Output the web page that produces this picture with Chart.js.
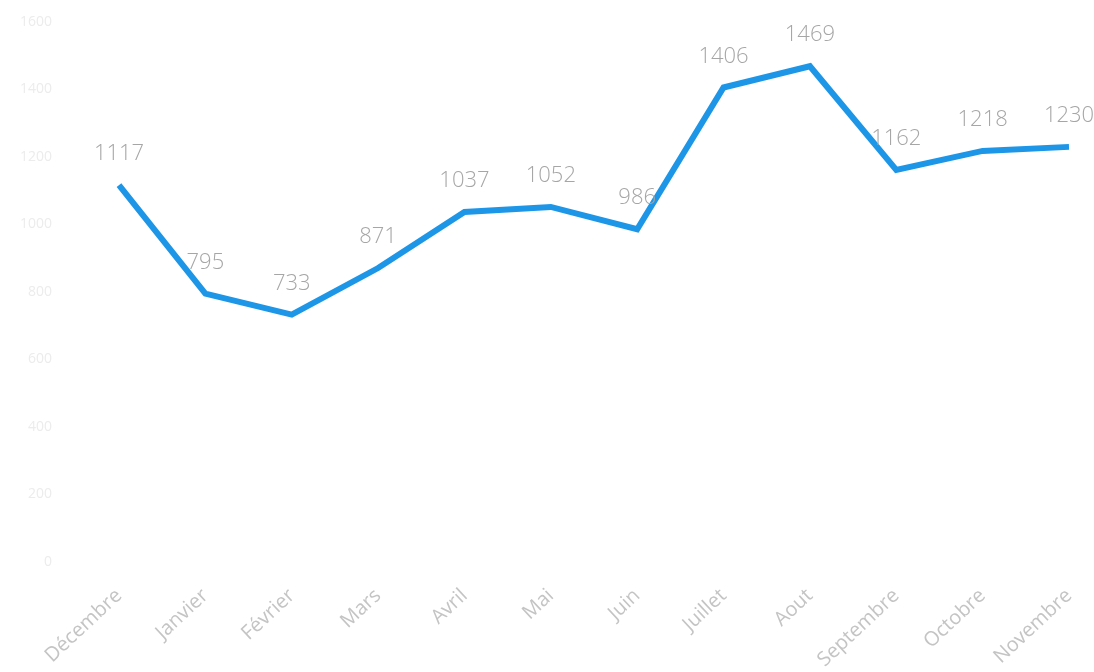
<!DOCTYPE html>
<html>
<head>
<meta charset="utf-8">
<script src="https://cdn.jsdelivr.net/npm/chart.js@4"></script>
<style>
  html, body { margin: 0; padding: 0; background: #fff; }
  #wrap { width: 1094px; height: 672px; }
</style>
</head>
<body>
<div id="wrap"><canvas id="chart"></canvas></div>
<script>
const mois = ["Décembre", "Janvier", "Février", "Mars", "Avril", "Mai", "Juin", "Juillet", "Aout", "Septembre", "Octobre", "Novembre"];
const valeurs = [1117, 795, 733, 871, 1037, 1052, 986, 1406, 1469, 1162, 1218, 1230];
const yMax = 1600;
const yStep = 200;

// petites étiquettes au-dessus de chaque point
const etiquettes = {
  id: "etiquettes",
  afterDatasetsDraw(chart) {
    const ctx = chart.ctx;
    const meta = chart.getDatasetMeta(0);
    ctx.save();
    ctx.font = "300 22px 'Open Sans'";
    ctx.fillStyle = "#a6a6a6";
    ctx.textAlign = "center";
    ctx.textBaseline = "middle";
    meta.data.forEach((pt, i) => {
      ctx.fillText(String(valeurs[i]), pt.x, pt.y - 31);
    });
    ctx.restore();
  }
};

new Chart(document.getElementById("chart"), {
  type: "line",
  data: {
    labels: mois,
    datasets: [{
      data: valeurs,
      borderColor: "#1e96e8",
      borderWidth: 6,
      pointRadius: 0,
      tension: 0,
      fill: false
    }]
  },
  options: {
    responsive: true,
    maintainAspectRatio: false,
    animation: false,
    layout: { padding: { top: 22, right: 25, left: 0, bottom: 0 } },
    plugins: { legend: { display: false }, tooltip: { enabled: false } },
    scales: {
      x: {
        offset: false,
        grid: { display: false, drawTicks: false },
        border: { display: false },
        afterFit: s => {
          s.height = 110;
          s.paddingLeft = 0;
          s.paddingRight = 0;
        },
        ticks: {
          color: "#c4c4c4",
          font: { family: "'Open Sans'", size: 20 },
          minRotation: 43,
          maxRotation: 43,
          padding: 22
        }
      },
      y: {
        min: 0,
        max: yMax,
        grid: { display: false, drawTicks: false },
        border: { display: false },
        afterFit: s => {
          s.width = 119;
          // le grand padding des graduations ne doit pas pousser le haut
          s.paddingTop = 0;
          s.paddingBottom = 0;
        },
        ticks: {
          stepSize: yStep,
          color: "#ececec",
          font: { family: "'Open Sans'", size: 14 },
          padding: 67,
          callback: v => String(v)
        }
      }
    }
  },
  plugins: [etiquettes]
});
</script>
</body>
</html>
